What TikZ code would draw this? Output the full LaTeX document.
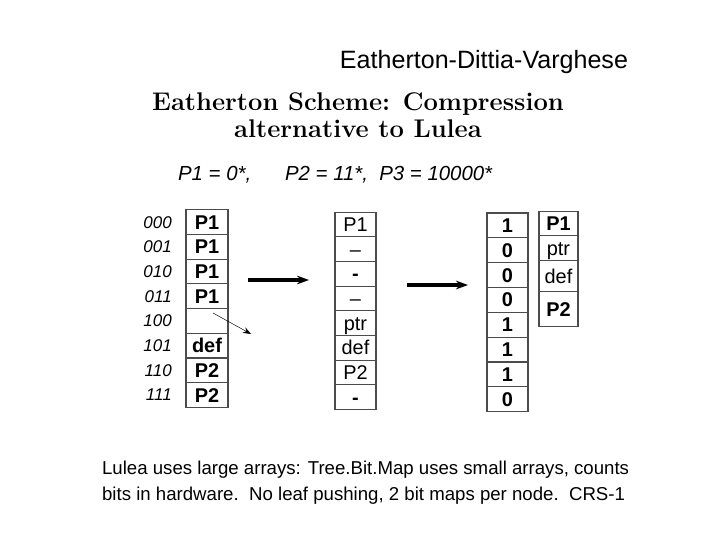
\documentclass[tikz,border=0pt]{standalone}
\usepackage{fontspec}
\newfontfamily\arial{Liberation Sans}
\usetikzlibrary{positioning, arrows.meta}
\tikzset{
  node distance=0cm,
  heading/.style={
      font=\arial\fontsize{21.4}{25}\selectfont
    },
  scheme/.style={
      font=\fontsize{21.8}{22.5}\selectfont\bfseries,
      align=center
    },
  prefixes/.style={
      font=\arial\itshape\fontsize{17.4}{20}\selectfont,
      anchor=west
    },
  idx/.style={
      font=\arial\itshape\fontsize{14.5}{16}\selectfont,
      inner sep=0pt
    },
  cell/.style={
      rectangle,
      draw=black!70,
      line width=0.9pt,
      outer sep=0pt,
      inner sep=0pt,
      text height=12pt,
      text depth=0pt,
      minimum width=1.26cm,
      minimum height=0.74cm,
      font=\arial\bfseries\fontsize{17}{19}\selectfont
    },
  plain/.style={
      cell,
      minimum width=1.23cm,
      font=\arial\fontsize{17}{19}\selectfont
    },
  bit/.style={
      cell,
      minimum width=1.23cm,
      minimum height=0.745cm
    },
  arr/.style={
      -{Stealth[length=3.6mm,width=2.6mm]},
      line width=2.8pt
    },
  note/.style={
      font=\arial\fontsize{15.9}{22.5}\selectfont,
      align=left,
      anchor=north west
    }
}
\begin{document}
\begin{tikzpicture}[x=0.03cm, y=-0.03cm]
  \useasboundingbox (0,0) rectangle (720,540);
  \node[heading] (hdr) at (484,62) {Eatherton-Dittia-Varghese};
  \node[scheme] (sch) at (358,115) {Eatherton Scheme: Compression\\alternative to Lulea};
  \node[prefixes] (pa) at (174,175) {P1 = 0*,};
  \node[prefixes] (pb) at (281,175) {P2 = 11*,\ \ P3 = 10000*};

  % leaf-pushed array
  \node[cell] (l0) at (207,222.3) {P1};
  \node[cell, below=of l0] (l1) {P1};
  \node[cell, below=of l1] (l2) {P1};
  \node[cell, below=of l2] (l3) {P1};
  \node[cell, below=of l3] (l4) {};
  \node[cell, below=of l4] (l5) {def};
  \node[cell, below=of l5] (l6) {P2};
  \node[cell, below=of l6] (l7) {P2};
  \node[idx, left=0.42cm of l0] (i0) {000};
  \node[idx, left=0.42cm of l1] (i1) {001};
  \node[idx, left=0.42cm of l2] (i2) {010};
  \node[idx, left=0.42cm of l3] (i3) {011};
  \node[idx, left=0.42cm of l4] (i4) {100};
  \node[idx, left=0.42cm of l5] (i5) {101};
  \node[idx, left=0.42cm of l6] (i6) {110};
  \node[idx, left=0.42cm of l7] (i7) {111};
  \coordinate (d0) at (213,313);
  \coordinate (d1) at (251,334);
  \draw[-{Stealth[length=2.4mm,width=1.8mm]}, thin] (d0) -- (d1);

  % compressed entries
  \node[plain] (m0) at (355.5,224.4) {P1};
  \node[plain, below=of m0] (m1) {–};
  \node[plain, below=of m1] (m2) {\textbf{-}};
  \node[plain, below=of m2] (m3) {–};
  \node[plain, below=of m3] (m4) {ptr};
  \node[plain, below=of m4] (m5) {def};
  \node[plain, below=of m5] (m6) {P2};
  \node[plain, below=of m6] (m7) {\textbf{-}};
  \coordinate (a0) at (248,280);
  \coordinate (a1) at (309,280);
  \draw[arr] (a0) -- (a1);

  % bitmap plus result array
  \node[bit] (b0) at (507.5,225.4) {1};
  \node[bit, below=of b0] (b1) {0};
  \node[bit, below=of b1] (b2) {0};
  \node[bit, below=of b2] (b3) {0};
  \node[bit, below=of b3] (b4) {1};
  \node[bit, below=of b4] (b5) {1};
  \node[bit, below=of b5] (b6) {1};
  \node[bit, below=of b6] (b7) {0};
  \node[cell, minimum width=1.17cm, minimum height=0.72cm] (r0) at (558.5,223.8) {P1};
  \node[plain, minimum width=1.17cm, minimum height=0.75cm, below=of r0] (r1) {ptr};
  \node[plain, minimum width=1.17cm, minimum height=0.93cm, below=of r1] (r2) {def};
  \node[cell, minimum width=1.17cm, minimum height=1.05cm, below=of r2] (r3) {P2};
  \coordinate (c0) at (407,285);
  \coordinate (c1) at (468,285);
  \draw[arr] (c0) -- (c1);

  \node[note] (txt) at (98,457) {Lulea uses large arrays: Tree.Bit.Map uses small arrays, counts\\bits in hardware.\ \ No leaf pushing, 2 bit maps per node.\ \ CRS-1};
\end{tikzpicture}
\end{document}
